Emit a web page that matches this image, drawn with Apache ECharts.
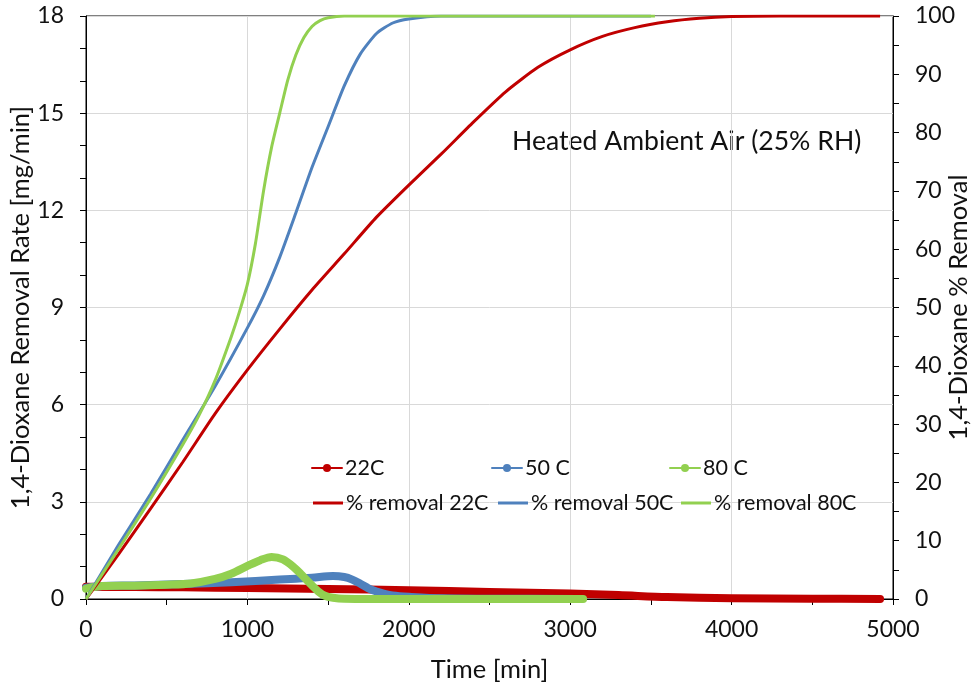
<!DOCTYPE html>
<html>
<head>
<meta charset="utf-8">
<script src="https://cdn.jsdelivr.net/npm/echarts@6/dist/echarts.min.js"></script>
<style>
  html, body { margin: 0; padding: 0; background: #fff; }
  #main { width: 971px; height: 689px; }
</style>
</head>
<body>
<div id="main"></div>
<script>
// % removal curves (right axis)
var pct22Time = [0, 200, 400, 600, 800, 1000, 1200, 1400, 1600, 1800, 2000, 2200, 2400, 2600, 2800, 3000, 3200, 3400, 3600, 3800, 4000, 4300, 4920]
var pct22Vals = [0, 7.6, 15.5, 23.5, 31.8, 39.3, 46.3, 53, 59.2, 65.5, 71, 76.3, 81.8, 87, 91.2, 94.2, 96.5, 98, 99, 99.6, 99.9, 100, 100]

var pct50Time = [0, 200, 400, 600, 800, 1000, 1100, 1200, 1300, 1400, 1500, 1600, 1700, 1800, 1900, 2000, 2200, 2600, 3500]
var pct50Vals = [0, 9.2, 18, 27.3, 36.5, 46.5, 52, 58.6, 66.2, 74, 81, 88, 93.5, 97, 98.8, 99.5, 100, 100, 100]

var pct80Time = [0, 200, 400, 600, 700, 800, 900, 950, 1000, 1050, 1100, 1150, 1200, 1250, 1300, 1350, 1400, 1450, 1500, 1600, 3525]
var pct80Vals = [0, 8.5, 17.2, 26.5, 31.5, 37.5, 45, 49.2, 54, 61, 70, 77.5, 83.3, 89, 93.3, 96.3, 98.2, 99.2, 99.7, 100, 100]

// removal rate curves (left axis, mg/min)
var rate22Time = [0, 300, 600, 1000, 1500, 2000, 2500, 3000, 3300, 3600, 4000, 4500, 4920]
var rate22Vals = [0.38, 0.37, 0.36, 0.34, 0.31, 0.27, 0.22, 0.17, 0.12, 0.06, 0.02, 0.01, 0]

var rate50Time = [0, 100, 300, 600, 900, 1200, 1400, 1530, 1600, 1650, 1700, 1750, 1800, 1850, 1900, 2000, 2200, 2500, 3050]
var rate50Vals = [0.35, 0.4, 0.42, 0.46, 0.52, 0.6, 0.66, 0.71, 0.68, 0.6, 0.47, 0.33, 0.23, 0.16, 0.11, 0.07, 0.02, 0.01, 0]

var rate80Time = [0, 100, 300, 500, 650, 800, 900, 1000, 1080, 1150, 1220, 1290, 1330, 1370, 1400, 1440, 1480, 1530, 1600, 2000, 3080]
var rate80Vals = [0.32, 0.4, 0.41, 0.44, 0.48, 0.62, 0.78, 1.02, 1.2, 1.3, 1.22, 0.97, 0.78, 0.57, 0.42, 0.23, 0.1, 0.04, 0.01, 0, 0]

var red = '#C00000'
var blue = '#4F81BD'
var green = '#92D050'
var font = 'Lato'

function pairs(ts, vs) {
    var out = []
    for (var i = 0; i < ts.length; i++) {
        out.push([ts[i], vs[i]])
    }
    return out
}

function rateSeries(name, color, ts, vs) {
    return {
        name: name,
        type: 'line',
        yAxisIndex: 0,
        data: pairs(ts, vs),
        symbol: 'circle',
        symbolSize: 8,
        showSymbol: false,
        smooth: 0.3,
        color: color,
        lineStyle: { width: 8, color: color, cap: 'round', join: 'round' },
        animation: false
    }
}

function pctSeries(name, color, ts, vs) {
    return {
        name: name,
        type: 'line',
        yAxisIndex: 1,
        data: pairs(ts, vs),
        symbol: 'none',
        smooth: 0.2,
        color: color,
        lineStyle: { width: 3, color: color },
        animation: false
    }
}

// one legend box per item so they sit in fixed columns like the original
function legendItem(name, left, top, isRate) {
    var lg = {
        data: [name],
        left: left, top: top,
        itemWidth: 30, itemGap: 0,
        textStyle: { fontFamily: font, fontSize: 21.5, color: '#111', padding: [0, 0, 0, -2] }
    }
    if (isRate) {
        lg.itemHeight = 10
        lg.lineStyle = { width: 2 }
    } else {
        lg.icon = 'rect'
        lg.itemHeight = 3
    }
    return lg
}

var myChart = echarts.init(document.getElementById('main'))

var option = {
    backgroundColor: '#fff',
    textStyle: { fontFamily: font, color: '#111' },
    grid: {
        left: 86, right: 78, top: 16, bottom: 90,
        outerBoundsMode: 'none',
        containLabel: false,
        show: true, borderColor: '#000', borderWidth: 1
    },
    legend: [
        legendItem('22C', 306, 452, true),
        legendItem('50 C', 486, 452, true),
        legendItem('80 C', 664, 452, true),
        legendItem('% removal 22C', 308, 487, false),
        legendItem('% removal 50C', 493, 487, false),
        legendItem('% removal 80C', 676, 487, false)
    ],
    xAxis: {
        type: 'value',
        min: 0, max: 5000, interval: 1000,
        name: 'Time [min]',
        nameLocation: 'middle',
        nameGap: 58,
        nameMoveOverlap: false,
        nameTextStyle: { fontSize: 25.5, color: '#111' },
        axisLine: { lineStyle: { color: '#000', width: 1 } },
        axisTick: { length: 6, lineStyle: { color: '#000' } },
        minorTick: { show: true, splitNumber: 2, length: 6, lineStyle: { color: '#000' } },
        axisLabel: { fontSize: 23, color: '#111', margin: 19, formatter: function (v) { return String(v) } },
        splitLine: { show: true, lineStyle: { color: '#d9d9d9', width: 1 } }
    },
    yAxis: [
        {
            type: 'value',
            min: 0, max: 18, interval: 3,
            name: '1,4-Dioxane Removal Rate [mg/min]',
            nameLocation: 'middle',
            nameGap: 52,
            nameMoveOverlap: false,
            nameTextStyle: { fontSize: 25.5, color: '#111' },
            axisLine: { show: true, lineStyle: { color: '#000', width: 1 } },
            axisTick: { show: true, length: 6, lineStyle: { color: '#000' } },
            minorTick: { show: true, splitNumber: 3, length: 6, lineStyle: { color: '#000' } },
            axisLabel: { fontSize: 23, color: '#111', margin: 22 },
            splitLine: { show: true, lineStyle: { color: '#d9d9d9', width: 1 } }
        },
        {
            type: 'value',
            position: 'right',
            min: 0, max: 100, interval: 10,
            name: '1,4-Dioxane % Removal',
            nameLocation: 'middle',
            nameRotate: 90,
            nameGap: 53,
            nameMoveOverlap: false,
            nameTextStyle: { fontSize: 25.5, color: '#111' },
            axisLine: { show: true, lineStyle: { color: '#000', width: 1 } },
            axisTick: { show: true, length: 6, lineStyle: { color: '#000' } },
            minorTick: { show: true, splitNumber: 2, length: 6, lineStyle: { color: '#000' } },
            axisLabel: { fontSize: 23, color: '#111', margin: 22 },
            splitLine: { show: false }
        }
    ],
    graphic: [
        {
            type: 'text',
            left: 512, top: 128,
            style: { text: 'Heated Ambient Air (25% RH)', fontFamily: font, fontSize: 26.6, fill: '#111' }
        }
    ],
    series: [
        rateSeries('22C', red, rate22Time, rate22Vals),
        rateSeries('50 C', blue, rate50Time, rate50Vals),
        rateSeries('80 C', green, rate80Time, rate80Vals),
        pctSeries('% removal 22C', red, pct22Time, pct22Vals),
        pctSeries('% removal 50C', blue, pct50Time, pct50Vals),
        pctSeries('% removal 80C', green, pct80Time, pct80Vals)
    ]
}

myChart.setOption(option)
</script>
</body>
</html>
